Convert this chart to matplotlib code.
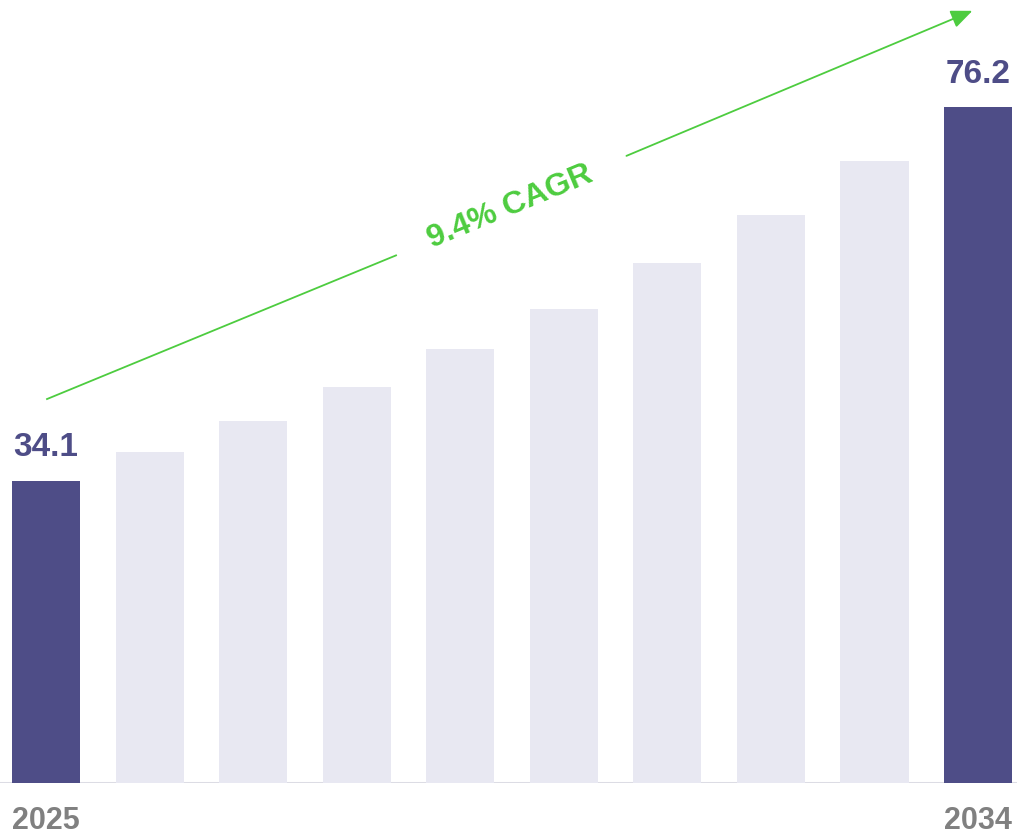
import numpy as np
import matplotlib.pyplot as plt

years = [2025, 2026, 2027, 2028, 2029, 2030, 2031, 2032, 2033, 2034]
values = [34.1, 37.3, 40.8, 44.7, 48.9, 53.5, 58.6, 64.0, 70.1, 76.2]
cagr_text = "9.4% CAGR"

dark = "#4e4d87"
light = "#e8e8f2"
green = "#4dcc3f"
grey = "#808080"

fig = plt.figure(figsize=(10.17, 8.35), dpi=100)
ax = fig.add_axes([0, 52/835, 1, 783/835])

x = np.arange(len(years))
cols = [dark if i in (0, len(years)-1) else light for i in range(len(years))]
ax.bar(x, values, width=0.657, color=cols, zorder=2)

ax.set_xlim(-0.444, 9.376)
ax.set_ylim(0, 88.3)
ax.axis("off")
ax.axhline(0, color="#dcdce4", lw=2.2, zorder=1)

for i in (0, len(years)-1):
	ax.text(x[i], values[i] + 2.0, f"{values[i]:.1f}", ha="center", va="bottom",
		fontsize=24, fontweight="bold", color=dark, family="Liberation Sans")
	ax.text(x[i], -2.6, str(years[i]), ha="center", va="top",
		fontsize=22, fontweight="bold", color=grey,
		family=["Liberation Sans Narrow", "Liberation Sans"])

# CAGR arrow, broken around the label
p0 = (0.01, 43.3)
p1 = (3.38, 59.5)
p2 = (5.58, 70.6)
p3 = (8.97, 87.2)
ax.plot([p0[0], p1[0]], [p0[1], p1[1]], color=green, lw=1.3)
ax.annotate("", xy=p3, xytext=p2,
	arrowprops=dict(arrowstyle="-|>,head_length=1.3,head_width=0.55", color=green, lw=1.3))
ax.text(4.48, 65.0, cagr_text, ha="center", va="center", rotation=22.5,
	fontsize=23, fontweight="bold", color=green, family="Liberation Sans")

plt.savefig("out.png", dpi=100)
